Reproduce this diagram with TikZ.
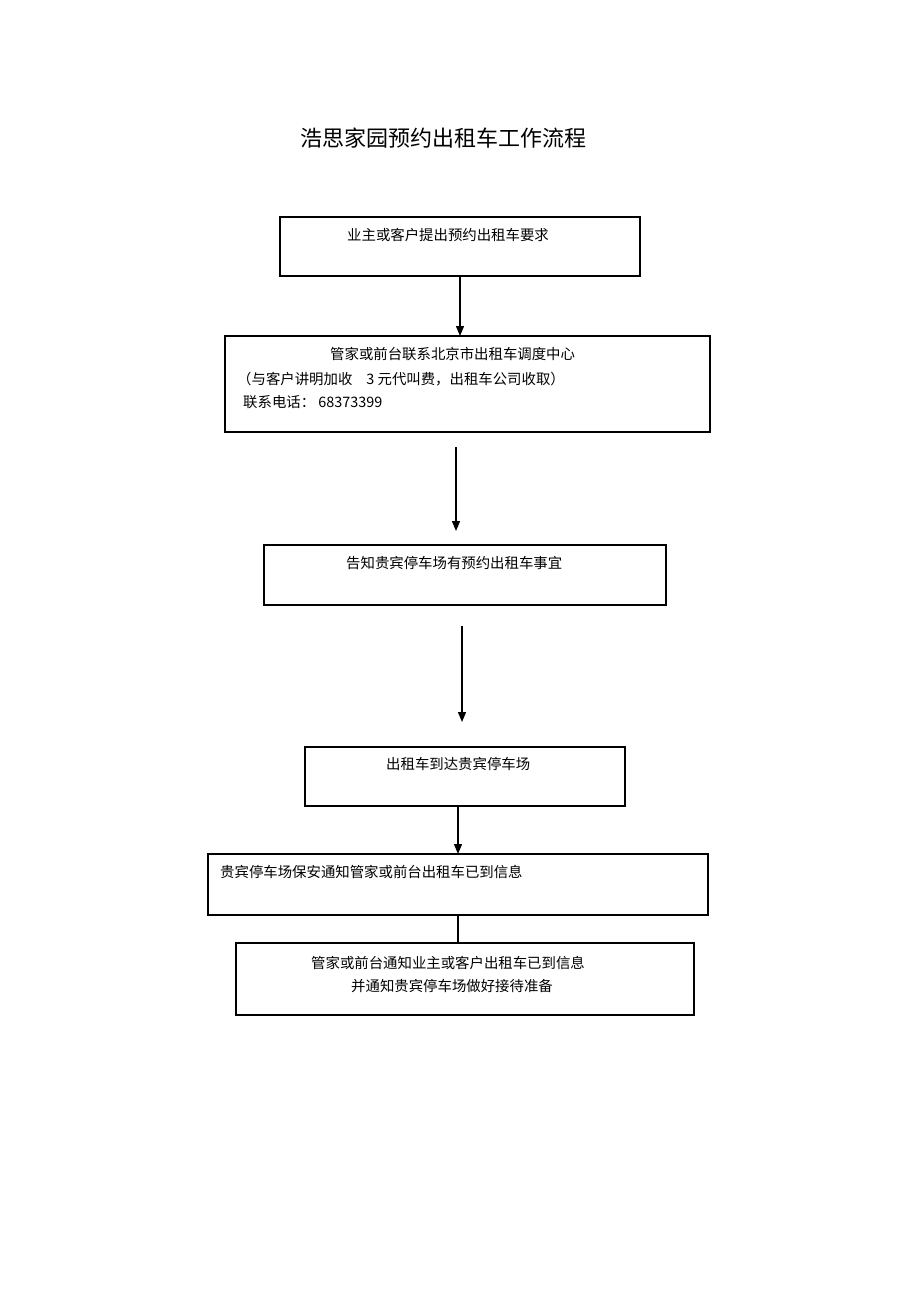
\documentclass[tikz,border=0pt]{standalone}
\usepackage{fontspec}
\newfontfamily\cjk{Noto Sans CJK SC}
\usetikzlibrary{arrows.meta}
\begin{document}
\begin{tikzpicture}[x=1pt,y=-1pt,
  box/.style={draw=black,line width=1.3pt,inner sep=0pt},
  txt/.style={inner sep=0pt,anchor=west,font=\cjk\fontsize{14.4}{16}\selectfont},
  arr/.style={line width=1.3pt,-{Triangle[length=10pt,width=8pt]}},
  ln/.style={line width=1.3pt}]
\useasboundingbox (0,0) rectangle (920,1303);
\fill[white] (0,0) rectangle (920,1303);
\node[inner sep=0pt,anchor=west,font=\cjk\fontsize{22}{24}\selectfont] (title) at (300,138) {浩思家园预约出租车工作流程};
% boxes
\draw[box] (280,217) rectangle (640,276); \coordinate (b1) at (460,276);
\node[txt] (t1) at (347,235) {业主或客户提出预约出租车要求};
\draw[box] (225,336) rectangle (710,432); \coordinate (b2t) at (460,336);
\node[txt] (t2a) at (330,354) {管家或前台联系北京市出租车调度中心};
\node[txt] (t2b) at (237,379) {（与客户讲明加收\hspace{14pt}3 元代叫费，出租车公司收取）};
\node[txt] (t2c) at (243,402) {联系电话： 68373399};
\draw[box] (264,545) rectangle (666,605);
\node[txt] (t3) at (346,563) {告知贵宾停车场有预约出租车事宜};
\draw[box] (305,747) rectangle (625,806); \coordinate (b4b) at (458,806);
\node[txt] (t4) at (386,764) {出租车到达贵宾停车场};
\draw[box] (208,854) rectangle (708,915); \coordinate (b5t) at (458,854); \coordinate (b5b) at (458,915);
\node[txt] (t5) at (220,872) {贵宾停车场保安通知管家或前台出租车已到信息};
\draw[box] (236,943) rectangle (694,1015); \coordinate (b6t) at (458,943);
\node[txt,anchor=center] (t6a) at (448,963) {管家或前台通知业主或客户出租车已到信息};
\node[txt,anchor=center] (t6b) at (452,986) {并通知贵宾停车场做好接待准备};
% connectors
\draw[arr] (b1) -- (b2t);
\coordinate (a2s) at (456,447); \coordinate (a2e) at (456,531);
\draw[arr] (a2s) -- (a2e);
\coordinate (a3s) at (462,626); \coordinate (a3e) at (462,722);
\draw[arr] (a3s) -- (a3e);
\draw[arr] (b4b) -- (b5t);
\draw[ln] (b5b) -- (b6t);
\end{tikzpicture}
\end{document}
